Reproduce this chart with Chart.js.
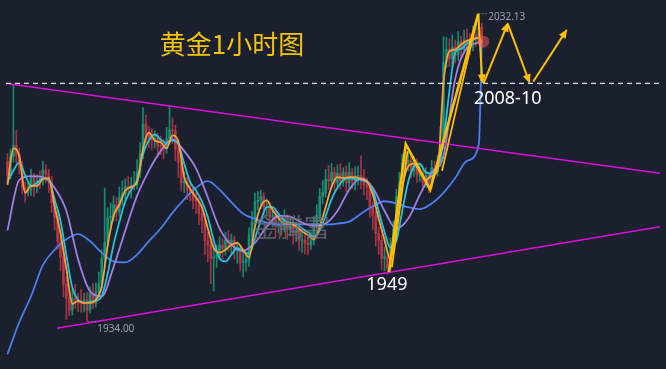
<!DOCTYPE html>
<html>
<head>
<meta charset="utf-8">
<script src="https://cdn.jsdelivr.net/npm/chart.js@4.4.0/dist/chart.umd.min.js"></script>
<style>
html, body { margin: 0; padding: 0; background: #1a202d; overflow: hidden; }
canvas { display: block; }
</style>
</head>
<body>
<canvas id="chart_gold" width="666" height="369"></canvas>
<script>
//1h gold candles, index 0 = oldest bar
let candle_open = [
  1985.0,1980.6,1986.5,1990.2,1987.0,1983.5,1976.8,1975.2,1975.8,1980.0,
  1976.9,1978.9,1978.8,1982.3,1981.0,1978.6,1971.8,1967.0,1959.6,1954.5,
  1945.8,1941.3,1937.6,1941.2,1941.0,1939.8,1939.6,1940.8,1937.5,1942.9,
  1939.8,1943.5,1945.9,1954.0,1959.2,1967.0,1967.5,1971.2,1968.9,1973.8,
  1974.5,1977.0,1976.6,1977.4,1977.6,1981.5,1987.4,1997.0,1993.6,1992.8,
  1992.0,1992.3,1990.0,1989.7,1989.0,1992.3,1995.1,1994.8,1989.0,1984.6,
  1978.2,1978.4,1975.8,1975.3,1972.6,1972.2,1968.3,1966.0,1959.7,1958.3,
  1954.1,1954.6,1955.0,1958.3,1957.2,1959.9,1959.0,1959.9,1956.5,1956.8,
  1952.8,1952.8,1953.8,1961.4,1965.8,1972.2,1972.6,1973.8,1970.4,1970.7,
  1967.4,1967.6,1964.3,1965.1,1964.0,1966.4,1963.3,1964.5,1962.1,1963.0,
  1959.6,1959.9,1959.0,1958.4,1959.6,1965.1,1967.4,1973.8,1975.1,1979.3,
  1978.8,1981.5,1978.2,1981.2,1978.8,1981.5,1978.2,1981.5,1978.8,1980.0,
  1980.6,1980.0,1977.5,1976.9,1970.4,1967.6,1962.1,1959.9,1954.1,1954.6,
  1951.0,1958.3,1963.3,1973.8,1978.2,1984.6,1984.3,1985.5,1981.9,1984.6,
  1980.6,1981.5,1978.2,1980.6,1977.5,1983.0,1981.9,1984.6,1990.5,2016.7,
  2020.7,2017.7,2021.6,2018.9,2023.2,2020.7,2023.8,2022.9,2021.4,2025.3,
  2024.4,2027.8
];
let candle_high = [
  1987.5,1989.0,2009.3,1995.0,1989.2,1985.0,1978.5,1978.0,1982.6,1981.3,
  1980.7,1981.9,1985.1,1984.0,1982.5,1980.2,1973.5,1969.0,1962.8,1956.0,
  1948.2,1943.9,1944.4,1945.8,1943.0,1944.1,1942.9,1943.2,1945.0,1946.0,
  1946.3,1949.7,1956.8,1976.5,1970.3,1971.8,1974.0,1973.5,1976.9,1978.8,
  1979.5,1980.2,1979.9,1981.8,1985.5,1991.0,2002.2,1999.8,1996.3,1995.5,
  1994.8,1994.0,1993.1,1992.0,1995.9,2002.8,1998.9,1996.6,1990.7,1986.0,
  1981.7,1980.0,1977.9,1977.0,1975.0,1973.6,1971.0,1968.1,1962.5,1960.2,
  1957.3,1958.4,1961.0,1960.4,1962.5,1963.0,1961.8,1961.2,1959.4,1958.0,
  1955.6,1956.0,1963.8,1969.0,1975.0,1975.4,1975.8,1975.0,1973.1,1972.0,
  1970.2,1969.5,1967.4,1967.9,1969.6,1968.0,1966.8,1966.0,1965.2,1964.4,
  1962.3,1962.8,1961.0,1962.6,1967.4,1971.2,1976.4,1978.9,1982.5,1983.8,
  1984.4,1983.1,1983.9,1984.3,1983.0,1983.5,1984.6,1982.8,1983.3,1983.5,
  1986.8,1982.4,1979.6,1978.2,1972.0,1969.2,1964.0,1961.5,1957.7,1956.5,
  1960.6,1966.0,1976.1,1981.6,1987.3,1986.9,1987.8,1986.9,1986.5,1985.9,
  1984.2,1982.9,1983.0,1981.7,1985.4,1985.1,1987.0,1996.0,2024.8,2024.6,
  2024.0,2025.4,2023.8,2026.5,2025.0,2026.9,2027.2,2025.8,2028.3,2027.9,
  2032.13,2029.0
];
let candle_low = [
  1978.0,1979.5,1984.8,1984.5,1981.0,1974.6,1972.0,1973.9,1974.2,1973.8,
  1975.0,1976.3,1977.4,1978.2,1975.1,1968.8,1963.2,1957.0,1950.1,1941.8,
  1934.5,1935.8,1936.0,1938.2,1937.1,1936.9,1937.0,1934.0,1936.6,1938.0,
  1938.5,1941.5,1944.6,1951.0,1957.9,1963.5,1965.9,1966.0,1967.5,1971.0,
  1972.4,1974.0,1973.2,1975.9,1976.2,1979.8,1985.9,1991.0,1989.4,1988.6,
  1989.3,1986.5,1987.2,1985.8,1987.6,1990.5,1990.7,1985.3,1979.9,1975.5,
  1975.0,1972.8,1972.4,1969.9,1968.4,1964.8,1962.3,1955.2,1953.0,1946.0,
  1943.6,1951.2,1953.6,1954.0,1955.1,1956.4,1955.7,1953.9,1952.5,1950.0,
  1948.2,1949.9,1951.5,1959.7,1964.0,1969.6,1970.0,1968.1,1967.5,1964.6,
  1964.1,1961.0,1962.2,1961.3,1962.5,1960.1,1961.2,1958.6,1959.4,1956.6,
  1956.0,1955.5,1955.2,1956.9,1958.4,1963.6,1965.8,1971.5,1973.6,1976.1,
  1977.0,1975.6,1976.8,1976.2,1977.1,1975.3,1976.5,1976.4,1975.9,1977.5,
  1976.2,1974.3,1972.8,1967.1,1963.3,1958.0,1955.4,1950.6,1950.1,1949.0,
  1950.2,1956.6,1961.5,1971.9,1976.8,1981.2,1982.0,1979.6,1980.1,1978.3,
  1978.6,1975.9,1976.7,1975.0,1976.4,1979.8,1980.3,1983.4,1989.0,2014.9,
  2015.3,2015.5,2016.4,2017.1,2018.3,2019.4,2020.5,2019.0,2020.2,2021.8,
  2022.7,2021.5
];
let candle_close = [
  1980.6,1986.5,1990.2,1987.0,1983.5,1976.8,1975.2,1975.8,1980.0,1976.9,
  1978.9,1978.8,1982.3,1981.0,1978.6,1971.8,1967.0,1959.6,1954.5,1945.8,
  1941.3,1937.6,1941.2,1941.0,1939.8,1939.6,1940.8,1937.5,1942.9,1939.8,
  1943.5,1945.9,1954.0,1959.2,1967.0,1967.5,1971.2,1968.9,1973.8,1974.5,
  1977.0,1976.6,1977.4,1977.6,1981.5,1987.4,1997.0,1993.6,1992.8,1992.0,
  1992.3,1990.0,1989.7,1989.0,1992.3,1995.1,1994.8,1989.0,1984.6,1978.2,
  1978.4,1975.8,1975.3,1972.6,1972.2,1968.3,1966.0,1959.7,1958.3,1954.1,
  1954.6,1955.0,1958.3,1957.2,1959.9,1959.0,1959.9,1956.5,1956.8,1952.8,
  1952.8,1953.8,1961.4,1965.8,1972.2,1972.6,1973.8,1970.4,1970.7,1967.4,
  1967.6,1964.3,1965.1,1964.0,1966.4,1963.3,1964.5,1962.1,1963.0,1959.6,
  1959.9,1959.0,1958.4,1959.6,1965.1,1967.4,1973.8,1975.1,1979.3,1978.8,
  1981.5,1978.2,1981.2,1978.8,1981.5,1978.2,1981.5,1978.8,1980.0,1980.6,
  1980.0,1977.5,1976.9,1970.4,1967.6,1962.1,1959.9,1954.1,1954.6,1951.0,
  1958.3,1963.3,1973.8,1978.2,1984.6,1984.3,1985.5,1981.9,1984.6,1980.6,
  1981.5,1978.2,1980.6,1977.5,1983.0,1981.9,1984.6,1990.5,2016.7,2020.7,
  2017.7,2021.6,2018.9,2023.2,2020.7,2023.8,2022.9,2021.4,2025.3,2024.4,
  2027.8,2023.2
];

//moving averages (bar index -> price)
let ma_fast_idx = [
  0,2,4,6,8,10,12,14,16,18,20,22,24,26,28,30,32,34,36,38,
  40,42,44,46,48,50,52,54,56,58,60,62,64,66,68,70,72,74,76,78,
  80,82,84,86,88,90,92,94,96,98,100,102,104,106,108,110,112,114,116,118,
  120,122,124,126,128,130,132,134,136,138,140,142,144,146,148,150,152,154,156,158,
  160,161
];
let ma_orange = [
  1977.5,1989.2,1986.8,1975.0,1977.2,1977.2,1979.4,1979.7,1970.7,1962.1,
  1950.7,1939.6,1940.5,1939.9,1939.9,1940.8,1945.1,1958.1,1967.6,1971.3,
  1975.7,1976.9,1978.4,1988.9,1994.2,1991.7,1991.1,1989.2,1993.3,1991.4,
  1980.0,1976.3,1973.5,1970.4,1963.6,1957.4,1955.9,1956.8,1958.4,1959.0,
  1956.8,1954.4,1964.2,1970.7,1972.6,1969.5,1967.0,1965.2,1965.2,1964.2,
  1962.7,1961.5,1960.2,1964.2,1970.4,1976.9,1980.0,1979.7,1980.0,1980.0,
  1979.4,1978.7,1974.4,1966.7,1959.9,1953.7,1964.2,1976.9,1983.4,1984.3,
  1981.5,1979.1,1980.3,1982.1,2009.9,2020.1,2020.7,2022.3,2023.5,2024.1,
  2024.4,2022.9
];
let ma_cyan = [
  1978.4,1982.1,1984.6,1980.6,1977.2,1978.1,1979.7,1979.1,1972.9,1966.1,
  1955.0,1944.8,1940.8,1939.9,1940.2,1940.5,1942.0,1949.1,1958.4,1965.8,
  1972.3,1976.0,1979.1,1987.4,1991.7,1993.6,1992.0,1990.8,1991.7,1990.5,
  1984.3,1978.4,1975.7,1972.3,1967.3,1959.9,1954.1,1953.1,1955.3,1957.4,
  1956.2,1955.6,1960.5,1966.1,1970.4,1970.4,1968.3,1966.1,1965.5,1965.2,
  1963.6,1962.4,1960.9,1963.0,1967.6,1972.9,1976.6,1979.1,1979.7,1979.4,
  1979.1,1978.4,1976.0,1969.2,1962.4,1957.4,1959.6,1969.2,1978.4,1983.4,
  1984.3,1981.5,1981.2,1982.4,1991.4,2007.4,2019.8,2021.0,2022.6,2023.8,
  2024.4,2023.2
];
let ma_slow_idx = [
  0,4,8,12,16,20,24,28,32,36,40,44,48,52,56,60,64,68,72,76,
  80,84,88,92,96,100,104,108,112,116,120,124,128,132,136,140,144,148,152,156,
  160,161
];
let ma_purple = [
  1963.0,1979.1,1980.3,1980.0,1976.6,1969.2,1953.7,1943.6,1942.0,1951.3,
  1963.0,1974.1,1982.1,1988.3,1992.0,1988.3,1982.8,1973.5,1963.6,1958.4,
  1956.5,1959.0,1964.2,1967.6,1967.3,1965.5,1964.5,1965.2,1969.2,1976.0,
  1979.7,1976.6,1969.2,1963.6,1966.7,1974.4,1981.5,1986.8,2011.5,2021.3,
  2022.9,2023.2
];
let ma_blue = [
  1923.5,1933.7,1942.0,1951.9,1956.8,1960.2,1961.8,1959.6,1955.9,1953.1,
  1952.8,1955.3,1959.6,1963.6,1968.6,1972.9,1976.6,1978.7,1976.0,1972.0,
  1968.3,1966.7,1965.5,1964.9,1964.9,1964.9,1964.9,1964.9,1965.2,1965.8,
  1968.3,1970.7,1972.3,1971.6,1970.4,1969.8,1971.6,1975.0,1979.7,1985.2,
  1990.5,2023.2
];

//trend lines (start, end)
let upper_trend_idx = [-0.5, 221.5];
let upper_trend_val = [2009.9, 1981.2];
let lower_trend_idx = [16.8, 221.5];
let lower_trend_val = [1931.8, 1964.2];
let level_idx = [-0.5, 221.5];
let level_val = [2009.9, 2009.9];

//hand drawn yellow path and projection arrows
let zig_idx = [129.5, 135.2, 143.5, 159.8];
let zig_val = [1949.7, 1990.5, 1976.0, 2032.1];
let zig2a_idx = [130.5, 135.8];
let zig2a_val = [1951.3, 1988.3];
let zig2b_idx = [147.5, 159.8];
let zig2b_val = [1982.0, 2032.1];
let drop_idx = [159.8, 161.2];
let drop_val = [2032.1, 2010.2];
let arrow1_idx = [161.6, 169.8];
let arrow1_val = [2009.9, 2029.0];
let arrow2_idx = [169.8, 177.2];
let arrow2_val = [2029.0, 2010.2];
let arrow3_idx = [178.5, 189.8];
let arrow3_val = [2010.5, 2026.9];

//price markers
let last_price = { x: 161.5, y: 2023.2 };
let high_mark_idx = [160.2, 162.8];
let high_mark_val = [2032.13, 2032.13];
let low_mark_idx = [27.5, 30.2];
let low_mark_val = [1934.0, 1934.0];

//text labels
let chart_title = '黄金1小时图';
let level_label = '2008-10';
let support_label = '1949';
let high_label = '2032.13';
let low_label = '1934.00';
let watermark = '金腾富';

let green_col = 'rgba(20,150,118,0.9)';
let red_col = 'rgba(190,55,72,0.85)';
let yellow_col = '#ffbf00';
let magenta_col = '#dc10dc';

const toPoints = (xs, ys) => xs.map((x, i) => ({ x: x, y: ys[i] }));

const lineSet = (xs, ys, color, width, order, extra) => Object.assign({
    type: 'line',
    data: toPoints(xs, ys),
    borderColor: color,
    borderWidth: width,
    pointRadius: 0,
    tension: 0,
    fill: false,
    order: order
}, extra || {});

let candle_colors = candle_close.map((c, i) => c >= candle_open[i] ? green_col : red_col);

let datasets = [
    {
        type: 'bar',
        data: candle_close.map((c, i) => ({ x: i, y: [candle_low[i], candle_high[i]] })),
        backgroundColor: candle_colors,
        barThickness: 1,
        grouped: false,
        order: 30
    },
    {
        type: 'bar',
        data: candle_close.map((c, i) => ({ x: i, y: [candle_open[i], c] })),
        backgroundColor: candle_colors,
        barThickness: 2,
        minBarLength: 1,
        grouped: false,
        order: 29
    },
    lineSet(ma_slow_idx, ma_blue, '#4a7ff2', 1.8, 20, { cubicInterpolationMode: 'monotone' }),
    lineSet(ma_slow_idx, ma_purple, '#a07fe6', 1.8, 19, { cubicInterpolationMode: 'monotone' }),
    lineSet(ma_fast_idx, ma_cyan, '#22c4df', 1.8, 18, { cubicInterpolationMode: 'monotone' }),
    lineSet(ma_fast_idx, ma_orange, '#f7a13a', 1.8, 17, { cubicInterpolationMode: 'monotone' }),
    lineSet(upper_trend_idx, upper_trend_val, magenta_col, 1.5, 10),
    lineSet(lower_trend_idx, lower_trend_val, magenta_col, 1.5, 10),
    lineSet(level_idx, level_val, '#d8dce4', 1.2, 9, { borderDash: [5, 4] }),
    lineSet(high_mark_idx, high_mark_val, '#9aa0ab', 1, 9, { borderDash: [1, 2] }),
    lineSet(low_mark_idx, low_mark_val, '#9aa0ab', 1, 9, { borderDash: [1, 2] }),
    lineSet(zig2a_idx, zig2a_val, yellow_col, 1.8, 3),
    lineSet(zig2b_idx, zig2b_val, yellow_col, 1.8, 3),
    lineSet(zig_idx, zig_val, yellow_col, 2.6, 2),
    lineSet(drop_idx, drop_val, yellow_col, 2, 2, { arrowHead: true }),
    lineSet(arrow1_idx, arrow1_val, yellow_col, 2, 2, { arrowHead: true }),
    lineSet(arrow2_idx, arrow2_val, yellow_col, 2, 2, { arrowHead: true }),
    lineSet(arrow3_idx, arrow3_val, yellow_col, 2, 2, { arrowHead: true }),
    {
        type: 'scatter',
        data: [last_price],
        pointRadius: 6,
        pointBackgroundColor: 'rgba(255,90,95,0.5)',
        pointBorderWidth: 0,
        order: 1
    }
];

//labels drawn at data positions
let text_items = [
    { text: watermark, x: 96.2, y: 1964.2, font: '26px "Noto Sans CJK SC"', color: 'rgba(110,112,118,0.75)', align: 'center' },
    { text: chart_title, x: 76.2, y: 2022.3, font: '26px "Noto Sans CJK SC"', color: '#f5c400', align: 'center' },
    { text: level_label, x: 169.8, y: 2005.0, font: '18px "Noto Sans"', color: '#ffffff', align: 'center' },
    { text: support_label, x: 128.8, y: 1945.7, font: '18px "Noto Sans"', color: '#ffffff', align: 'center' },
    { text: high_label, x: 163.2, y: 2031.2, font: '10px "Noto Sans"', color: '#9aa0ab', align: 'left' },
    { text: low_label, x: 30.5, y: 1931.4, font: '10px "Noto Sans"', color: '#9aa0ab', align: 'left' }
];

const bg_plugin = {
    id: 'bg_fill',
    beforeDraw(chart) {
        const ctx = chart.ctx;
        ctx.save();
        ctx.fillStyle = '#1a202d';
        ctx.fillRect(0, 0, chart.width, chart.height);
        ctx.restore();
    }
};

const arrow_plugin = {
    id: 'arrow_heads',
    afterDatasetsDraw(chart) {
        const ctx = chart.ctx;
        chart.data.datasets.forEach((ds, i) => {
            if (!ds.arrowHead) return;
            let pts = chart.getDatasetMeta(i).data;
            let a = pts[pts.length - 2];
            let b = pts[pts.length - 1];
            let ang = Math.atan2(b.y - a.y, b.x - a.x);
            ctx.save();
            ctx.fillStyle = ds.borderColor;
            ctx.translate(b.x, b.y);
            ctx.rotate(ang);
            ctx.beginPath();
            ctx.moveTo(1, 0);
            ctx.lineTo(-8, -4);
            ctx.lineTo(-8, 4);
            ctx.closePath();
            ctx.fill();
            ctx.restore();
        });
    }
};

const text_plugin = {
    id: 'text_labels',
    afterDatasetsDraw(chart) {
        const ctx = chart.ctx;
        let xs = chart.scales.x;
        let ys = chart.scales.y;
        text_items.forEach(t => {
            ctx.save();
            ctx.font = t.font;
            ctx.fillStyle = t.color;
            ctx.textAlign = t.align;
            ctx.textBaseline = 'middle';
            ctx.fillText(t.text, xs.getPixelForValue(t.x), ys.getPixelForValue(t.y));
            ctx.restore();
        });
    }
};

let chart_canvas = document.getElementById('chart_gold');
let chart = new Chart(chart_canvas, {
    type: 'bar',
    data: { datasets: datasets },
    options: {
        responsive: false,
        animation: false,
        devicePixelRatio: 1,
        layout: { padding: 0 },
        plugins: {
            legend: { display: false },
            tooltip: { enabled: false }
        },
        scales: {
            x: { type: 'linear', display: false, min: -0.5, max: 221.5, offset: false },
            y: { type: 'linear', display: false, min: 1920.7, max: 2034.6 }
        }
    },
    plugins: [bg_plugin, arrow_plugin, text_plugin]
});
</script>
</body>
</html>
